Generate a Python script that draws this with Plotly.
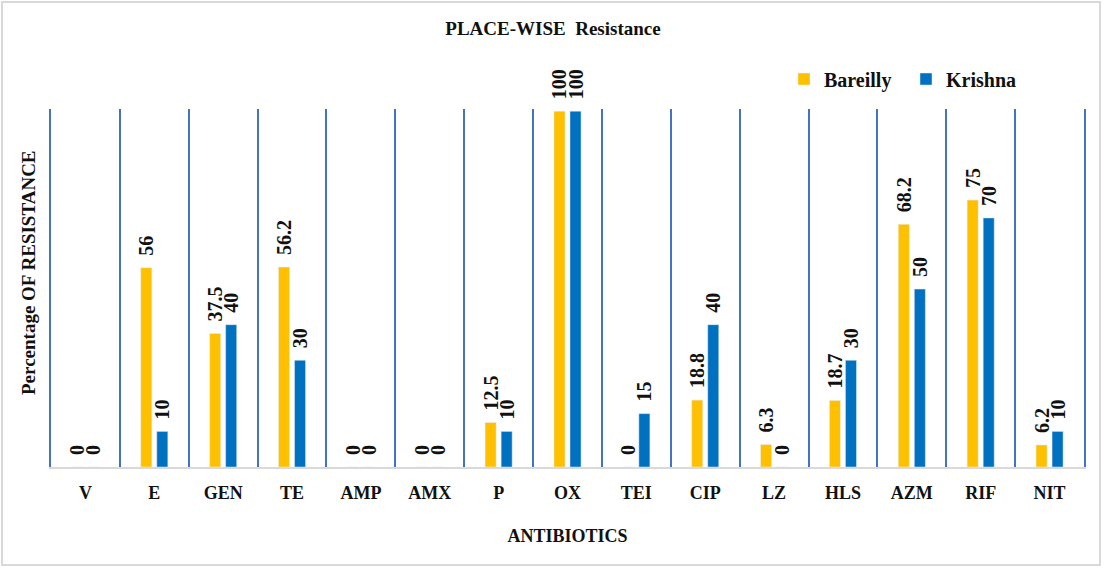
import plotly.graph_objects as go

antibiotics = ["V", "E", "GEN", "TE", "AMP", "AMX", "P", "OX", "TEI", "CIP", "LZ", "HLS", "AZM", "RIF", "NIT"]
bareilly = [0, 56, 37.5, 56.2, 0, 0, 12.5, 100, 0, 18.8, 6.3, 18.7, 68.2, 75, 6.2]
krishna = [0, 10, 40, 30, 0, 0, 10, 100, 15, 40, 0, 30, 50, 70, 10]

FONT = "Liberation Serif"
INK = "#111111"
SEP = "#4472C4"
W, H = 1106, 571
ML, MR, MT, MB = 51, 22, 109, 104

fig = go.Figure()
for name, vals, color in [("Bareilly", bareilly, "#FFC000"), ("Krishna", krishna, "#0070C0")]:
    fig.add_trace(go.Bar(
        name=name, x=antibiotics, y=vals, marker_color=color,
        # leading spaces keep the rotated value labels clear of the bar tops
        text=["\u00a0\u2009" + f"{v:g}" for v in vals], textposition="outside", textangle=-90,
        textfont=dict(family=FONT, size=20, color=INK, weight="bold"),
        cliponaxis=False,
    ))

pw = W - ML - MR
ph = H - MT - MB
fig.update_layout(
    width=W, height=H,
    margin=dict(l=ML, r=MR, t=MT, b=MB),
    paper_bgcolor="white", plot_bgcolor="white",
    barmode="group", bargap=0.535, bargroupgap=0.31,
    font=dict(family=FONT, color=INK),
    title=dict(text="PLACE-WISE  Resistance", x=0.5, xanchor="center", y=1 - 28 / H, yanchor="middle",
               font=dict(family=FONT, size=19, weight="bold", color=INK)),
    legend=dict(orientation="h", x=(784 - ML) / pw, xanchor="left", y=1 + (MT - 79) / ph, yanchor="middle",
                font=dict(family=FONT, size=20, weight="bold", color=INK),
                itemwidth=30, entrywidth=77, tracegroupgap=0, traceorder="normal"),
    uniformtext=dict(minsize=19, mode="show"),
)
fig.update_xaxes(
    type="category", tickson="boundaries", showgrid=True, gridcolor=SEP, gridwidth=2,
    ticks="", showline=True, linecolor="#D9D9D9", linewidth=2, ticklabelstandoff=8,
    tickfont=dict(family=FONT, size=18, weight="bold", color=INK),
    title=dict(text="ANTIBIOTICS", standoff=28, font=dict(family=FONT, size=18, weight="bold", color=INK)),
)
fig.update_yaxes(
    range=[0, 100.6], showgrid=False, zeroline=False, showticklabels=False, ticks="",
    showline=True, linecolor=SEP, linewidth=2, mirror=True,
)
# rotated y-axis title, placed a little above the plot's vertical centre
fig.add_annotation(text="Percentage OF RESISTANCE", textangle=-90, showarrow=False,
                   xref="paper", yref="paper", x=(28 - ML) / pw, y=1 - (273 - MT) / ph,
                   xanchor="center", yanchor="middle",
                   font=dict(family=FONT, size=19, weight="bold", color=INK))
# outer chart border
fig.add_shape(type="rect", xref="paper", yref="paper",
              x0=(2 - ML) / pw, x1=(1100 - ML) / pw, y0=-(565 - MT - ph) / ph, y1=1 + (MT - 2) / ph,
              line=dict(color="#D9D9D9", width=2), layer="below")

fig.write_html("out.html")
